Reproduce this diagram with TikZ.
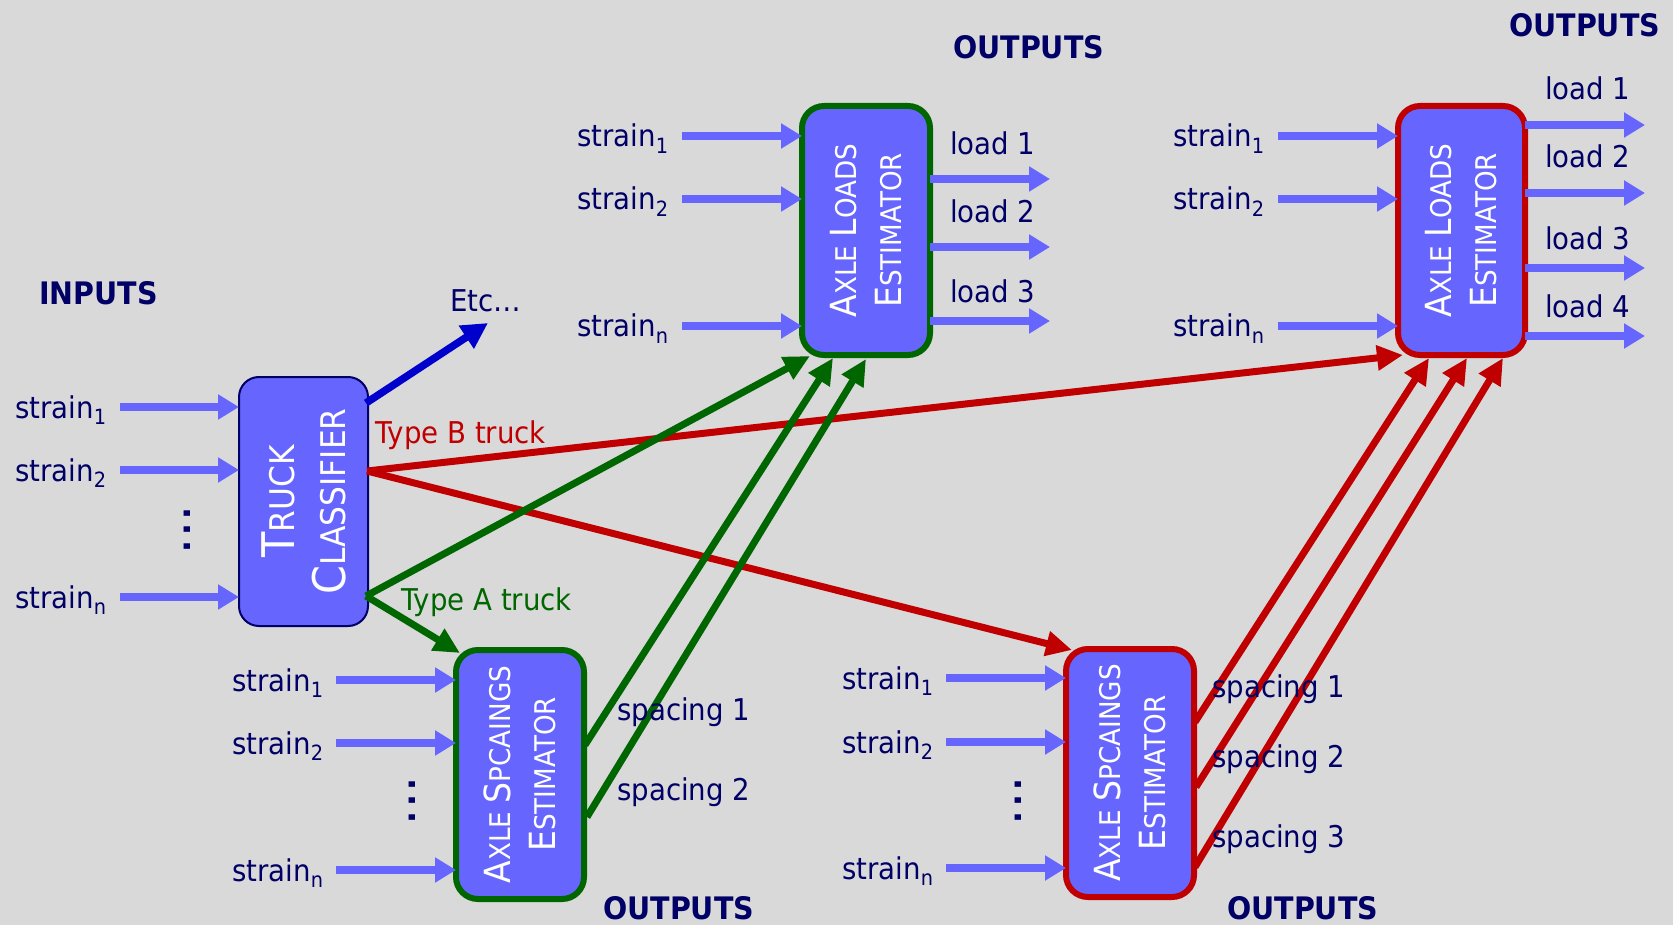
\documentclass[tikz,border=0pt]{standalone}
\usepackage{fontspec}
\setmainfont{DejaVu Sans}[FakeStretch=0.92]
\usetikzlibrary{arrows.meta}
\definecolor{bg}{HTML}{D9D9D9}
\definecolor{boxblue}{HTML}{6666FF}
\definecolor{navy}{HTML}{000066}
\definecolor{dgreen}{HTML}{006600}
\definecolor{dred}{HTML}{C00000}
\definecolor{eblue}{HTML}{0000CC}
\newcommand{\subidx}[1]{\raisebox{-6.5pt}{\fontsize{21}{21}\selectfont #1}}
\newcommand{\bigc}[2]{{\fontsize{#1}{#1}\selectfont #2}}
\newcommand{\vdotsq}{{\fontsize{34}{34}\selectfont\bfseries .\kern4.6pt.\kern4.6pt.}}
\begin{document}
\begin{tikzpicture}[x=1pt,y=-1pt,
  lbl/.style={anchor=base west, inner sep=0, text=navy, font=\fontsize{30}{36}\selectfont},
  hdr/.style={anchor=base west, inner sep=0, text=navy, font=\fontsize{31}{36}\selectfont\bfseries},
  inarr/.style={draw=boxblue, line width=8.5pt, -{Triangle[length=21pt,width=24pt]}},
  garr/.style={draw=dgreen, line width=7pt, -{Triangle[length=26pt,width=24pt]}},
  rarr/.style={draw=dred, line width=7pt, -{Triangle[length=26pt,width=24pt]}},
  barr/.style={draw=eblue, line width=7.5pt, -{Triangle[length=26pt,width=26pt]}},
  blk/.style={fill=boxblue, rounded corners=22pt, inner sep=0, outer sep=0, minimum width=128pt, minimum height=249pt},
  boxtext/.style={text=white, rotate=90, align=center, inner sep=0},
  dots/.style={text=navy, rotate=90, inner sep=0}]
\useasboundingbox[fill=bg] (0,0) rectangle (1673,925);

% ---------- boxes ----------
\node[blk, draw=navy, line width=2pt, rounded corners=20pt, minimum width=129pt, minimum height=249pt] (tc) at (303.5,501.5) {};
\node[blk, draw=dgreen, line width=6pt] (gle) at (866,230.5) {};
\node[blk, draw=dred, line width=6pt, minimum width=127pt] (rle) at (1461.5,230.5) {};
\node[blk, draw=dgreen, line width=6pt] (gse) at (520,774.5) {};
\node[blk, draw=dred, line width=6pt, minimum height=248pt] (rse) at (1130,773) {};

\node[boxtext, font=\fontsize{34}{51}\selectfont] (tct) at (tc) {\bigc{45}{T}RUCK\\\bigc{45}{C}LASSIFIER};
\node[boxtext, font=\fontsize{28.5}{45}\selectfont] (glt) at (gle) {\bigc{36}{A}XLE \bigc{36}{L}OADS\\\bigc{36}{E}STIMATOR};
\node[boxtext, font=\fontsize{28.5}{45}\selectfont] (rlt) at (rle) {\bigc{36}{A}XLE \bigc{36}{L}OADS\\\bigc{36}{E}STIMATOR};
\node[boxtext, font=\fontsize{28.5}{45}\selectfont] (gst) at (gse) {\bigc{36}{A}XLE \bigc{36}{S}PCAINGS\\\bigc{36}{E}STIMATOR};
\node[boxtext, font=\fontsize{28.5}{45}\selectfont] (rst) at (rse) {\bigc{36}{A}XLE \bigc{36}{S}PCAINGS\\\bigc{36}{E}STIMATOR};

% ---------- coordinates ----------
\coordinate (tcB) at (367,471);
\coordinate (tcA) at (366,596);
\coordinate (tcE) at (366,403);
\coordinate (etc) at (488,323);
\coordinate (gleA) at (810,356);
\coordinate (gle1) at (833,358);
\coordinate (gle2) at (866,359);
\coordinate (rleB) at (1403,355);
\coordinate (rle1) at (1429,358);
\coordinate (rle2) at (1467,358);
\coordinate (rle3) at (1503,358);
\coordinate (gseA) at (460,653);
\coordinate (rseB) at (1072,650);
\coordinate (gs1) at (585,745);
\coordinate (gs2) at (587,817);
\coordinate (rs1) at (1195,722);
\coordinate (rs2) at (1196,787);
\coordinate (rs3) at (1195,867);

% ---------- input arrows ----------
\foreach \y [count=\i] in {407,470,597}{
  \coordinate (ti\i) at (120,\y);
  \draw[inarr] (ti\i) -- (tc.west |- ti\i);}
\foreach \y [count=\i] in {136,199,326}{
  \coordinate (gi\i) at (682,\y);
  \draw[inarr] (gi\i) -- (gle.west |- gi\i);
  \coordinate (ri\i) at (1278,\y);
  \draw[inarr] (ri\i) -- (rle.west |- ri\i);}
\foreach \y [count=\i] in {680,743,870}{
  \coordinate (si\i) at (336,\y);
  \draw[inarr] (si\i) -- (gse.west |- si\i);}
\foreach \y [count=\i] in {678,742,868}{
  \coordinate (ui\i) at (946,\y);
  \draw[inarr] (ui\i) -- (rse.west |- ui\i);}

% ---------- output arrows ----------
\foreach \y [count=\i] in {179,247,321}{
  \coordinate (go\i) at (1050,\y);
  \draw[inarr] (gle.east |- go\i) -- (go\i);}
\foreach \y [count=\i] in {125,193,268,336}{
  \coordinate (ro\i) at (1645,\y);
  \draw[inarr] (rle.east |- ro\i) -- (ro\i);}

% ---------- connectors ----------
\draw[barr] (tcE) -- (etc);
\draw[rarr] (tcB) -- (rleB);
\draw[rarr] (tcB) -- (rseB);
\draw[garr] (tcA) -- (gleA);
\draw[garr] (tcA) -- (gseA);
\draw[garr] (gs1) -- (gle1);
\draw[garr] (gs2) -- (gle2);
\draw[rarr] (rs1) -- (rle1);
\draw[rarr] (rs2) -- (rle2);
\draw[rarr] (rs3) -- (rle3);

% ---------- labels ----------
\node[hdr] (hin) at (39,305) {INPUTS};
\node[hdr] (hout1) at (953,59) {OUTPUTS};
\node[hdr] (hout2) at (1509,37) {OUTPUTS};
\node[hdr] (hout3) at (603,919) {OUTPUTS};
\node[hdr] (hout4) at (1227,919) {OUTPUTS};

\node[lbl] (l11) at (15,418) {strain\subidx{1}};
\node[lbl] (l12) at (15,481) {strain\subidx{2}};
\node[lbl] (l1n) at (15,608) {strain\subidx{n}};
\node[dots] (d1) at (187,530) {\vdotsq};

\node[lbl] (l21) at (577,147) {strain\subidx{1}};
\node[lbl] (l22) at (577,210) {strain\subidx{2}};
\node[lbl] (l2n) at (577,337) {strain\subidx{n}};

\node[lbl] (l31) at (1173,147) {strain\subidx{1}};
\node[lbl] (l32) at (1173,210) {strain\subidx{2}};
\node[lbl] (l3n) at (1173,337) {strain\subidx{n}};

\node[lbl] (l41) at (232,691) {strain\subidx{1}};
\node[lbl] (l42) at (232,754) {strain\subidx{2}};
\node[lbl] (l4n) at (232,881) {strain\subidx{n}};
\node[dots] (d2) at (412,801) {\vdotsq};

\node[lbl] (l51) at (842,689) {strain\subidx{1}};
\node[lbl] (l52) at (842,753) {strain\subidx{2}};
\node[lbl] (l5n) at (842,879) {strain\subidx{n}};
\node[dots] (d3) at (1018,801) {\vdotsq};

\node[lbl] (ld1) at (950,155) {load 1};
\node[lbl] (ld2) at (950,223) {load 2};
\node[lbl] (ld3) at (950,303) {load 3};

\node[lbl] (rd1) at (1545,100) {load 1};
\node[lbl] (rd2) at (1545,168) {load 2};
\node[lbl] (rd3) at (1545,250) {load 3};
\node[lbl] (rd4) at (1545,318) {load 4};

\node[lbl] (gs1l) at (617,720) {spacing 1};
\node[lbl] (gs2l) at (617,800) {spacing 2};
\node[lbl] (rs1l) at (1212,697) {spacing 1};
\node[lbl] (rs2l) at (1212,767) {spacing 2};
\node[lbl] (rs3l) at (1212,847) {spacing 3};

\node[lbl] (etcl) at (450,312) {Etc…};
\node[lbl, text=dred] (tbl) at (375,443) {Type B truck};
\node[lbl, text=dgreen] (tal) at (401,610) {Type A truck};
\end{tikzpicture}
\end{document}
